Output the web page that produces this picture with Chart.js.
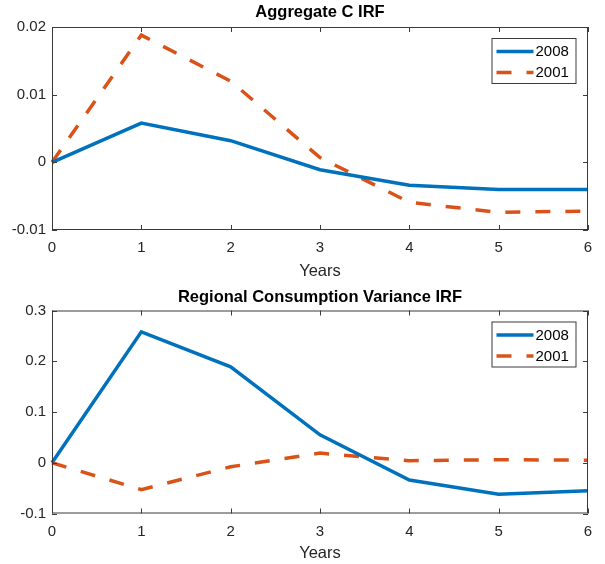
<!DOCTYPE html>
<html>
<head>
<meta charset="utf-8">
<script src="https://cdn.jsdelivr.net/npm/chart.js@4.4.1/dist/chart.umd.min.js"></script>
<style>
  body { margin: 0; background: #fff; width: 605px; height: 564px; overflow: hidden; position: relative; }
  .panel { position: absolute; left: 0; width: 605px; }
</style>
</head>
<body>
<div class="panel" style="top:0;height:290px"><canvas id="aggChart"></canvas></div>
<div class="panel" style="top:290px;height:274px"><canvas id="varChart"></canvas></div>
<script>
// ---- data ----
const years = [0, 1, 2, 3, 4, 5, 6];
const seriesNames = ['2008', '2001'];

const aggC2008 = [0, 0.0058, 0.0032, -0.0011, -0.0034, -0.0040, -0.0040];
const aggC2001 = [0, 0.0188, 0.0120, 0.0007, -0.0059, -0.0074, -0.0072];

const regVar2008 = [0, 0.258, 0.189, 0.055, -0.034, -0.062, -0.055];
const regVar2001 = [0, -0.053, -0.008, 0.019, 0.004, 0.006, 0.005];

const aggTicks = [-0.01, 0, 0.01, 0.02];
const varTicks = [-0.1, 0, 0.1, 0.2, 0.3];

const BLUE = '#0072BD';
const ORANGE = '#D95319';
const INK = '#262626';
const FONT = '"Liberation Sans", Arial, Helvetica, sans-serif';

/* ============================================================
   MATLAB-style box, inward ticks, title and legend
   ============================================================ */
const matlabAxes = {
  id: 'matlabAxes',
  afterDraw(chart, args, opts) {
    const { ctx, chartArea: a, scales } = chart;
    ctx.save();

    // box
    ctx.strokeStyle = '#3a3a3a';
    ctx.lineWidth = 1;
    ctx.strokeRect(a.left + 0.5, a.top + 0.5, a.right - a.left - 1, a.bottom - a.top - 1);

    // inward ticks on all four sides
    const len = 5;
    ctx.beginPath();
    scales.x.ticks.forEach(t => {
      const x = Math.round(scales.x.getPixelForValue(t.value)) + 0.5;
      ctx.moveTo(x, a.bottom); ctx.lineTo(x, a.bottom - len);
      ctx.moveTo(x, a.top); ctx.lineTo(x, a.top + len);
    });
    scales.y.ticks.forEach(t => {
      const y = Math.round(scales.y.getPixelForValue(t.value)) + 0.5;
      ctx.moveTo(a.left, y); ctx.lineTo(a.left + len, y);
      ctx.moveTo(a.right, y); ctx.lineTo(a.right - len, y);
    });
    ctx.stroke();

    // title centred over the axes
    ctx.fillStyle = '#000';
    ctx.font = 'bold 16.5px ' + FONT;
    ctx.textAlign = 'center';
    ctx.textBaseline = 'middle';
    ctx.fillText(opts.title, (a.left + a.right) / 2, a.top - opts.titleGap);

    // legend box in the top-right corner
    const bw = 84, bh = 45;
    const bx = a.right - 12.5 - bw, by = a.top + 11;
    ctx.fillStyle = '#fff';
    ctx.fillRect(bx, by, bw, bh);
    ctx.strokeStyle = '#3a3a3a';
    ctx.strokeRect(bx + 0.5, by + 0.5, bw, bh);
    chart.data.datasets.forEach((ds, i) => {
      const y = by + 13.5 + i * 21;
      ctx.strokeStyle = ds.borderColor;
      ctx.lineWidth = ds.borderWidth;
      ctx.setLineDash(ds.borderDash || []);
      ctx.beginPath();
      ctx.moveTo(bx + 5, y); ctx.lineTo(bx + 42, y);
      ctx.stroke();
      ctx.setLineDash([]);
      ctx.fillStyle = '#000';
      ctx.font = '15px ' + FONT;
      ctx.textAlign = 'left';
      ctx.fillText(ds.label, bx + 44, y + 0.5);
    });
    ctx.restore();
  }
};

function makeChart(id, s2008, s2001, ticks, title, layout) {
  const [ymin, ymax] = [ticks[0], ticks[ticks.length - 1]];
  return new Chart(document.getElementById(id), {
    type: 'line',
    data: {
      labels: years,
      datasets: [
        { label: seriesNames[0], data: s2008, borderColor: BLUE, borderWidth: 3.5, pointRadius: 0, tension: 0 },
        { label: seriesNames[1], data: s2001, borderColor: ORANGE, borderWidth: 3.5, borderDash: [15, 15], pointRadius: 0, tension: 0 }
      ]
    },
    options: {
      responsive: true, maintainAspectRatio: false, animation: false,
      layout: { padding: { top: layout.top, right: 17, left: 0, bottom: 0 } },
      plugins: {
        legend: { display: false },
        tooltip: { enabled: false },
        matlabAxes: { title, titleGap: layout.titleGap }
      },
      scales: {
        x: {
          grid: { display: false, drawTicks: false },
          border: { display: false },
          ticks: { color: INK, font: { family: FONT, size: 15 }, padding: 9, maxRotation: 0 },
          title: { display: true, text: 'Years', color: INK, font: { family: FONT, size: 16.5 }, padding: { top: 0, bottom: layout.yearsPad } },
          afterFit: s => { s.height = layout.xHeight; }
        },
        y: {
          min: ymin, max: ymax,
          afterBuildTicks: s => { s.ticks = ticks.map(v => ({ value: v })); },
          grid: { display: false, drawTicks: false },
          border: { display: false },
          ticks: { color: INK, font: { family: FONT, size: 15 }, padding: 6, callback: v => String(+v.toFixed(3)) },
          afterFit: s => { s.width = 52; }
        }
      }
    },
    plugins: [matlabAxes]
  });
}

makeChart('aggChart', aggC2008, aggC2001, aggTicks, 'Aggregate C IRF',
  { top: 27, xHeight: 60, yearsPad: 9, titleGap: 15 });
makeChart('varChart', regVar2008, regVar2001, varTicks, 'Regional Consumption Variance IRF',
  { top: 20.5, xHeight: 50.5, yearsPad: 0.5, titleGap: 13 });
</script>
</body>
</html>
